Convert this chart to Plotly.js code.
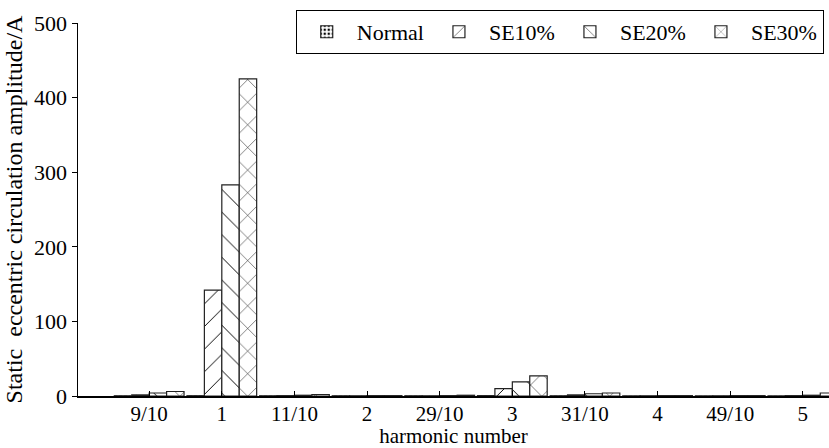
<!DOCTYPE html>
<html>
<head>
<meta charset="utf-8">
<script src="https://cdn.plot.ly/plotly-3.0.1.min.js"></script>
<style>html,body{margin:0;padding:0;background:#fff;}#chart{width:829px;height:448px;}</style>
</head>
<body>
<div id="chart"></div>
<script>
const categories = ['9/10','1','11/10','2','29/10','3','31/10','4','49/10','5'];
const normalVals = [0.3, 0.4, 0.3, 0.3, 0.3, 0.5, 0.3, 0.2, 0.2, 0.2];
const se10Vals   = [1.5, 142, 0.5, 0.3, 0.3, 10, 1.5, 0.3, 0.3, 0.5];
const se20Vals   = [4, 283, 1, 0.5, 0.5, 19, 3, 0.5, 0.5, 1];
const se30Vals   = [6, 425, 2, 0.5, 1, 27, 4, 0.5, 0.5, 4];
const seriesNames = ['Normal','SE10%','SE20%','SE30%'];
const yTickVals = [0,100,200,300,400,500];

const shapes = ['.', '/', '\\', 'x'];
const vals = [normalVals, se10Vals, se20Vals, se30Vals];
const font = 'Liberation Serif, Times New Roman, serif';

const traces = vals.map((v, i) => ({
  type: 'bar',
  name: seriesNames[i],
  x: categories,
  y: v,
  marker: {
    color: '#ffffff',
    line: {color: '#222', width: 1.2},
    pattern: {shape: shapes[i], fgcolor: '#000', bgcolor: '#fff', size: i === 0 ? 5 : 16, solidity: i === 0 ? 0.3 : 0.06}
  }
}));

const layout = {
  width: 829, height: 448,
  margin: {l: 78, r: 0, t: 23, b: 52},
  paper_bgcolor: '#fff', plot_bgcolor: '#fff',
  barmode: 'group', bargap: 0.04, bargroupgap: 0,
  font: {family: font, size: 22, color: '#000'},
  showlegend: true,
  legend: {
    orientation: 'h', x: 0.993, xanchor: 'right', y: 1.035, yanchor: 'top',
    bordercolor: '#000', borderwidth: 1, bgcolor: '#fff',
    font: {family: font, size: 22, color: '#000'},
    traceorder: 'normal', itemwidth: 50, tracegroupgap: 0
  },
  xaxis: {
    type: 'category', range: [-0.98, 9.36],
    showline: true, linecolor: '#000', linewidth: 1.5,
    ticks: 'inside', ticklen: 5, tickcolor: '#000', tickwidth: 1,
    ticklabelstandoff: -2,
    showgrid: false, zeroline: false,
    tickfont: {family: font, size: 21, color: '#000'},
    title: {text: 'harmonic number', font: {family: font, size: 21, color: '#000'}, standoff: 0}
  },
  yaxis: {
    range: [0, 500], tickvals: yTickVals,
    showline: true, linecolor: '#000', linewidth: 1.5,
    ticks: 'outside', ticklen: 5, tickcolor: '#000', tickwidth: 1,
    showgrid: false, zeroline: false,
    tickfont: {family: font, size: 22, color: '#000'},
    title: {text: 'Static  eccentric circulation amplitude/A', font: {family: font, size: 24, color: '#000'}, standoff: 4}
  }
};

Plotly.newPlot('chart', traces, layout, {displayModeBar: false, staticPlot: true});
</script>
</body>
</html>
